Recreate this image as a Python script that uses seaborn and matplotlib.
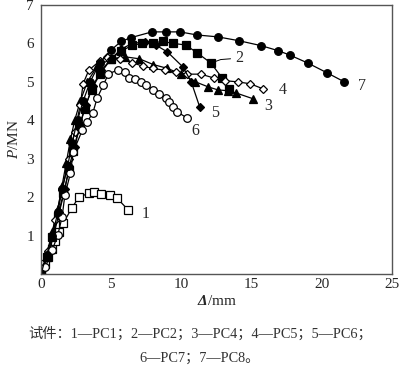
import pandas as pd
import seaborn as sns
import matplotlib.pyplot as plt

# displacement (mm) and load (MN) per specimen
d1 = [0, 0.3, 0.5, 0.8, 1.0, 1.3, 1.6, 2.2, 2.7, 3.4, 3.8, 4.3, 4.9, 5.4, 6.2]
p1 = [0, 0.25, 0.44, 0.65, 0.85, 1.1, 1.33, 1.72, 2.0, 2.1, 2.14, 2.08, 2.06, 1.98, 1.67]

d2 = [0, 0.4, 0.8, 1.2, 1.6, 2.0, 2.3, 2.7, 3.1, 3.6, 4.2, 5.0, 5.7, 6.5, 7.2, 8.0, 8.7, 9.4, 10.3, 11.1, 12.1, 12.9, 13.4]
p2 = [0, 0.45, 0.95, 1.5, 2.1, 2.7, 3.2, 3.8, 4.3, 4.8, 5.2, 5.6, 5.8, 5.95, 6.0, 6.02, 6.05, 6.0, 5.96, 5.76, 5.49, 5.1, 4.82]

d3 = [0, 0.4, 0.8, 1.2, 1.5, 1.8, 2.1, 2.4, 2.8, 3.3, 4.0, 5.0, 6.0, 7.0, 8.0, 9.0, 10.0, 11.0, 11.9, 12.6, 13.3, 13.9, 15.1]
p3 = [0, 0.5, 1.1, 1.7, 2.3, 2.9, 3.5, 4.0, 4.5, 5.0, 5.4, 5.6, 5.65, 5.6, 5.45, 5.35, 5.2, 5.0, 4.87, 4.79, 4.77, 4.71, 4.56]

d4 = [0, 0.5, 1.0, 1.5, 2.0, 2.4, 2.8, 3.0, 3.4, 4.2, 4.7, 5.6, 6.5, 7.3, 8.0, 8.8, 9.6, 10.4, 11.4, 12.3, 13.1, 14.0, 14.9, 15.8]
p4 = [0, 0.6, 1.4, 2.2, 3.0, 3.7, 4.4, 4.95, 5.3, 5.55, 5.65, 5.6, 5.5, 5.4, 5.35, 5.3, 5.25, 5.2, 5.2, 5.1, 5.03, 5.0, 4.95, 4.82]

d5 = [0, 0.5, 0.9, 1.3, 1.7, 2.0, 2.4, 2.8, 3.2, 3.7, 4.3, 5.0, 5.7, 6.5, 7.4, 8.2, 9.0, 10.1, 10.7, 11.3]
p5 = [0, 0.5, 1.0, 1.6, 2.2, 2.8, 3.3, 3.9, 4.4, 4.9, 5.3, 5.6, 5.85, 6.0, 6.04, 5.95, 5.78, 5.39, 5.0, 4.35]

d6 = [0, 0.3, 0.8, 1.2, 1.5, 1.7, 2.1, 2.3, 2.95, 3.3, 3.7, 4.0, 4.45, 4.8, 5.5, 6.0, 6.3, 6.66, 7.09, 7.51, 8.0, 8.44, 8.87, 9.15, 9.4, 9.7, 10.4]
p6 = [0, 0.18, 0.62, 1.02, 1.48, 2.05, 2.63, 3.18, 3.75, 3.96, 4.2, 4.58, 4.92, 5.21, 5.31, 5.26, 5.1, 5.08, 5.0, 4.92, 4.79, 4.69, 4.58, 4.48, 4.35, 4.22, 4.06]

d7 = [0, 0.4, 0.8, 1.2, 1.5, 1.9, 2.2, 2.6, 3.0, 3.5, 4.2, 5.0, 5.7, 6.4, 7.9, 8.9, 9.9, 11.1, 12.6, 14.1, 15.7, 16.9, 17.7, 19.0, 20.4, 21.6]
p7 = [0, 0.5, 1.0, 1.6, 2.2, 2.8, 3.4, 4.0, 4.5, 5.0, 5.5, 5.83, 6.05, 6.15, 6.3, 6.3, 6.3, 6.22, 6.17, 6.07, 5.94, 5.81, 5.7, 5.49, 5.23, 5.0]

curve_ids = ['1', '2', '3', '4', '5', '6', '7']
curve_d = [d1, d2, d3, d4, d5, d6, d7]
curve_p = [p1, p2, p3, p4, p5, p6, p7]

# curve number label positions
label_x = [7.2, 13.8, 15.9, 16.9, 12.1, 10.7, 22.6]
label_y = [1.55, 5.63, 4.38, 4.78, 4.18, 3.72, 4.9]

caption1 = '试件：1—PC1；2—PC2；3—PC4；4—PC5；5—PC6；'
caption2 = '6—PC7；7—PC8。'

sns.set_style('white')
plt.rcParams['font.family'] = ['Liberation Serif', 'Noto Sans CJK SC']
plt.rcParams['mathtext.fontset'] = 'custom'
plt.rcParams['mathtext.rm'] = 'Liberation Serif'
plt.rcParams['mathtext.it'] = 'Liberation Serif:italic'
plt.rcParams['mathtext.bf'] = 'Liberation Serif:bold'
plt.rcParams['mathtext.bfit'] = 'Liberation Serif:bold:italic'

rows = []
for cid, ds, ps in zip(curve_ids, curve_d, curve_p):
    for d, p in zip(ds, ps):
        rows.append({'specimen': cid, 'disp': d, 'load': p})
df = pd.DataFrame(rows)

styles = {
    '1': ('s', 'white'),
    '2': ('s', 'black'),
    '3': ('^', 'black'),
    '4': ('D', 'white'),
    '5': ('D', 'black'),
    '6': ('o', 'white'),
    '7': ('o', 'black'),
}
msize = {'s': 5.5, '^': 6, 'D': 4.5, 'o': 5.5}

fig = plt.figure(figsize=(4, 3.69), dpi=100)
ax = fig.add_axes([0.1025, 0.2575, 0.8775, 0.729])

for cid in curve_ids:
    m, fc = styles[cid]
    sns.lineplot(data=df[df.specimen == cid], x='disp', y='load', sort=False,
                 estimator=None, color='black', lw=0.9, marker=m,
                 markersize=msize[m], markerfacecolor=fc, markeredgecolor='black',
                 markeredgewidth=0.9, ax=ax)

for cid, lx, ly in zip(curve_ids, label_x, label_y):
    ax.text(lx, ly, cid, fontsize=11.5, ha='left', va='center')
# leader line for curve 2
ax.plot([12.2, 12.8, 13.5], [5.5, 5.58, 5.6], color='black', lw=0.7)

ax.set_xlim(0, 25)
ax.set_ylim(0, 7)
ax.set_xticks([0, 5, 10, 15, 20, 25])
ax.set_yticks(range(0, 8))
ax.set_yticklabels([''] + [str(i) for i in range(1, 8)])
ax.tick_params(axis='x', direction='in', length=3, labelsize=11, pad=3, color='#555555')
ax.tick_params(axis='y', direction='in', length=0, labelsize=11, pad=5)
for s in ax.spines.values():
    s.set_color('#555555')
    s.set_linewidth(1.0)

ax.set_xlabel(r'$\mathbfit{\Delta}$/mm', fontsize=11, labelpad=2)
ax.set_ylabel(r'$\mathit{P}$/MN', fontsize=11, labelpad=4)

fig.text(0.5, 0.097, caption1, fontsize=10.3, ha='center', va='center', color='#333333')
fig.text(0.5, 0.03, caption2, fontsize=10.3, ha='center', va='center', color='#333333')

fig.savefig('out.png', dpi=100)
